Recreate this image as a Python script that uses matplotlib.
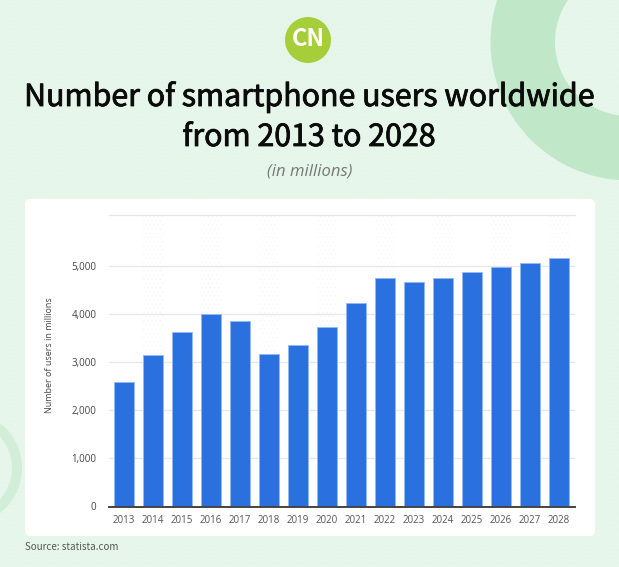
import matplotlib
matplotlib.use("Agg")
import matplotlib.pyplot as plt
import matplotlib.patheffects as pe
from matplotlib.patches import Circle, FancyBboxPatch, Rectangle, Wedge

W, H = 619, 567

years = ["2013", "2014", "2015", "2016", "2017", "2018", "2019", "2020",
         "2021", "2022", "2023", "2024", "2025", "2026", "2027", "2028"]
users = [2580, 3140, 3620, 3990, 3845, 3160, 3350, 3730,
         4220, 4750, 4660, 4750, 4855, 4960, 5060, 5160]
y_ticks = [0, 1000, 2000, 3000, 4000, 5000]
y_labels = ["0", "1,000", "2,000", "3,000", "4,000", "5,000"]

title_lines = ["Number of smartphone users worldwide", "from 2013 to 2028"]
subtitle = "(in millions)"
y_title = "Number of users in millions"
source = "Source: statista.com"

BG = "#e7f6ea"
BAR = "#2a70de"
BAR_EDGE = "#95b9f2"
HEADING = ["Noto Sans CJK SC", "DejaVu Sans"]

plt.rcParams["font.family"] = ["Open Sans", "DejaVu Sans"]
plt.rcParams["hatch.linewidth"] = 0.3

fig = plt.figure(figsize=(W / 100, H / 100), dpi=100, facecolor=BG)

# ---- backdrop drawn in pixel coordinates ----
bg = fig.add_axes([0, 0, 1, 1], zorder=0)
bg.set_xlim(0, W)
bg.set_ylim(H, 0)
bg.axis("off")
bg.add_patch(Rectangle((0, 0), W, H, fc=BG, ec="#e4f4e7", hatch="....", lw=0))
bg.add_patch(Wedge((629, 42), 138.5, 0, 360, width=64.5, color="#c0e8c8", lw=0))
bg.add_patch(Wedge((-35, 468), 57, 0, 360, width=10, color="#d3eed8", lw=0))
bg.add_patch(FancyBboxPatch((29, 203), 562, 329,
                            boxstyle="round,pad=4,rounding_size=5",
                            fc="white", ec="none"))
bg.add_patch(Circle((308, 40), 23, color="#a6ce39", lw=0))
bg.text(308, 39.5, "CN", color="white", fontsize=17, fontweight="bold",
        family=HEADING, ha="center", va="center")

# the CJK family has no medium weight here, so thicken the regular one a little
medium = [pe.withStroke(linewidth=0.6, foreground="#0b0b0b")]
for line, y in zip(title_lines, [106, 146]):
    bg.text(309, y, line, fontsize=21.85, color="#0b0b0b", family=HEADING,
            ha="center", va="baseline", path_effects=medium)
bg.text(310, 172, subtitle, fontsize=12, style="italic", color="#777777",
        ha="center", va="center")
bg.text(25, 547, source, fontsize=7.05, color="#555555", family=HEADING,
        ha="left", va="center")

# ---- the chart itself ----
left, right, top, bottom = 109, 575, 215, 506.5
ax = fig.add_axes([left / W, 1 - bottom / H, (right - left) / W, (bottom - top) / H],
                  zorder=1)
ax.patch.set_alpha(0)
x = list(range(len(years)))

# faint dotted strips behind every other column
for i in x[1::2]:
    ax.axvspan(i - 0.34, i + 0.34, fc="white", ec="#f4f4f4", hatch="....",
               lw=0, zorder=0)

ax.bar(x, users, width=0.69, color=BAR, edgecolor=BAR_EDGE, linewidth=0.7, zorder=3)

ax.set_xlim(-0.517, 15.55)
ax.set_ylim(0, 6048)
ax.set_xticks(x, years)
ax.set_yticks(y_ticks, y_labels)
ax.grid(axis="y", color="#e6e6e6", lw=0.9, zorder=1)
ax.set_axisbelow(True)
for side in ("left", "right"):
    ax.spines[side].set_visible(False)
ax.spines["top"].set_color("#e6e6e6")
ax.spines["top"].set_linewidth(0.9)
ax.spines["bottom"].set_color("#444444")
ax.spines["bottom"].set_linewidth(1.4)
ax.spines["bottom"].set_zorder(4)
ax.tick_params(axis="both", length=0, labelsize=7, labelcolor="#444444")
ax.tick_params(axis="x", pad=6, labelcolor="#555555")
ax.tick_params(axis="y", pad=9)

bg.text(49, 355, y_title, fontsize=6.5, color="#444444", rotation=90,
        ha="center", va="center")

fig.savefig("out.png", dpi=100, facecolor=BG)
